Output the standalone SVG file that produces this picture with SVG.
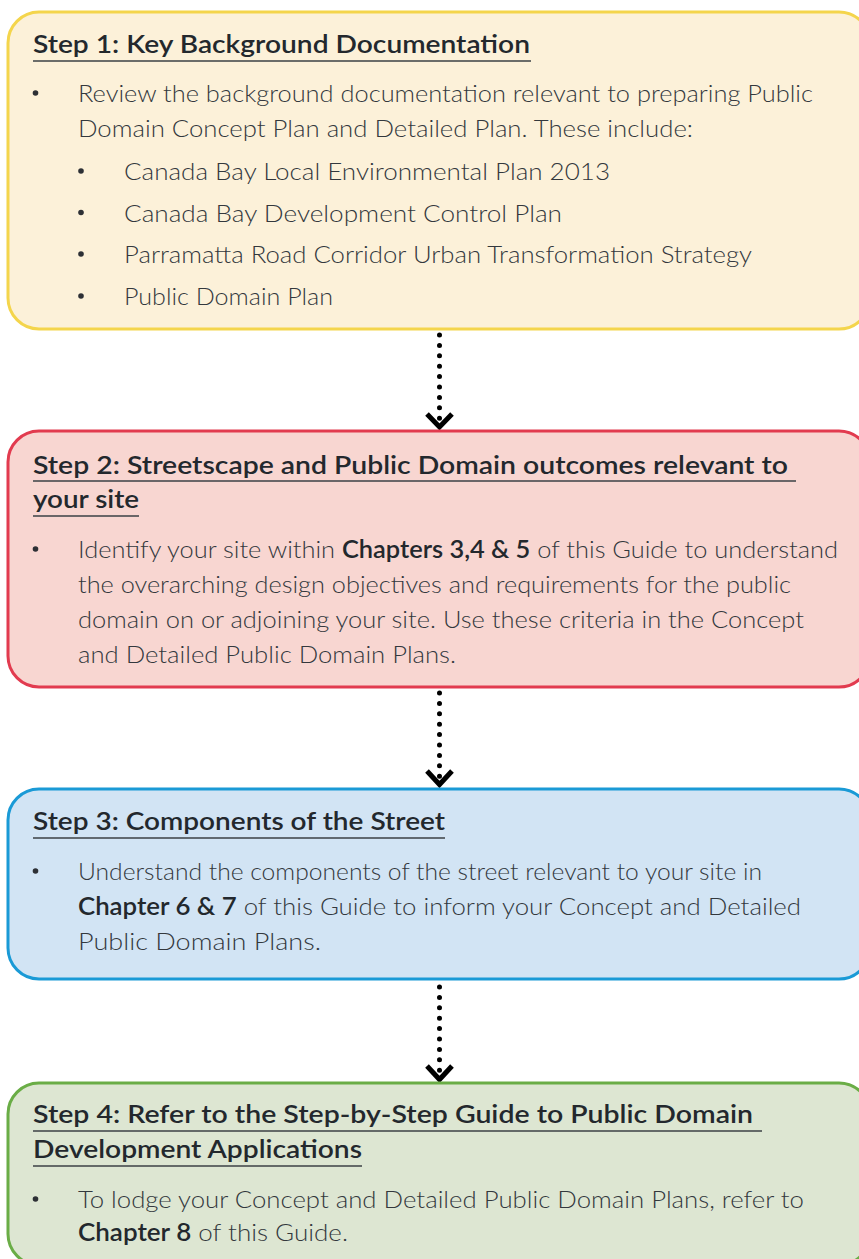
<svg xmlns="http://www.w3.org/2000/svg" width="859" height="1259" viewBox="0 0 859 1259">
<style>
.box{stroke-width:3}
.h{font-family:Lato,"Noto Sans","Liberation Sans",sans-serif;font-size:24px;font-weight:600;fill:#23282d}
.t{font-family:Lato,"Noto Sans","Liberation Sans",sans-serif;font-size:24px;font-weight:300;fill:#33383d}
.b{font-weight:600;fill:#23282d}
.ul{stroke:#3b4045;stroke-width:1.6}
.dot{fill:#2d3035}
.dots{stroke:#000;stroke-width:5;stroke-linecap:round;stroke-dasharray:0 10.4;fill:none}
.chev{stroke:#000;stroke-width:5;fill:none;stroke-linejoin:miter}
</style>
<g id="connectors">
<line class="dots" x1="439.5" y1="335" x2="439.5" y2="419"/>
<polyline class="chev" points="427,414 439.5,427 452,414"/>
<line class="dots" x1="439.5" y1="693" x2="439.5" y2="777"/>
<polyline class="chev" points="427,771 439.5,784.5 452,771"/>
<line class="dots" x1="439.5" y1="987" x2="439.5" y2="1071"/>
<polyline class="chev" points="427,1066 439.5,1079.5 452,1066"/>
</g>
<g id="step1">
<rect class="box" x="8" y="12" width="862" height="317" rx="31" fill="#fcf1d9" stroke="#f4d54c"/>
<text class="h" x="33" y="53" textLength="497" lengthAdjust="spacingAndGlyphs">Step 1: Key Background Documentation</text>
<line class="ul" x1="33" y1="61" x2="531" y2="61"/>
<circle class="dot" cx="35.5" cy="93" r="2.8"/>
<text class="t" x="78" y="102" textLength="735" lengthAdjust="spacingAndGlyphs">Review the background documentation relevant to preparing Public</text>
<text class="t" x="78" y="137" textLength="615" lengthAdjust="spacingAndGlyphs">Domain Concept Plan and Detailed Plan. These include:</text>
<circle class="dot" cx="81" cy="171" r="2.8"/>
<text class="t" x="124" y="180" textLength="486" lengthAdjust="spacingAndGlyphs">Canada Bay Local Environmental Plan 2013</text>
<circle class="dot" cx="81" cy="212.5" r="2.8"/>
<text class="t" x="124" y="222" textLength="438" lengthAdjust="spacingAndGlyphs">Canada Bay Development Control Plan</text>
<circle class="dot" cx="81" cy="254" r="2.8"/>
<text class="t" x="124" y="263" textLength="628" lengthAdjust="spacingAndGlyphs">Parramatta Road Corridor Urban Transformation Strategy</text>
<circle class="dot" cx="81" cy="296" r="2.8"/>
<text class="t" x="124" y="305" textLength="209" lengthAdjust="spacingAndGlyphs">Public Domain Plan</text>
</g>
<g id="step2">
<rect class="box" x="8" y="431" width="862" height="256" rx="31" fill="#f8d6d1" stroke="#e23b4f"/>
<text class="h" x="33" y="474" textLength="755" lengthAdjust="spacingAndGlyphs">Step 2: Streetscape and Public Domain outcomes relevant to</text>
<line class="ul" x1="33" y1="481" x2="796" y2="481"/>
<text class="h" x="33" y="508" textLength="106" lengthAdjust="spacingAndGlyphs">your site</text>
<line class="ul" x1="33" y1="516" x2="139" y2="516"/>
<circle class="dot" cx="35.5" cy="549" r="2.8"/>
<text class="t" x="78" y="558" textLength="760" lengthAdjust="spacingAndGlyphs">Identify your site within <tspan class="b">Chapters 3,4 &amp; 5</tspan> of this Guide to understand</text>
<text class="t" x="78" y="593" textLength="713" lengthAdjust="spacingAndGlyphs">the overarching design objectives and requirements for the public</text>
<text class="t" x="78" y="628" textLength="726" lengthAdjust="spacingAndGlyphs">domain on or adjoining your site. Use these criteria in the Concept</text>
<text class="t" x="78" y="663" textLength="378" lengthAdjust="spacingAndGlyphs">and Detailed Public Domain Plans.</text>
</g>
<g id="step3">
<rect class="box" x="8" y="789" width="862" height="190" rx="31" fill="#d2e4f4" stroke="#1a9ad6"/>
<text class="h" x="33" y="830" textLength="412" lengthAdjust="spacingAndGlyphs">Step 3: Components of the Street</text>
<line class="ul" x1="33" y1="838" x2="445" y2="838"/>
<circle class="dot" cx="35.5" cy="871" r="2.8"/>
<text class="t" x="78" y="880" textLength="684" lengthAdjust="spacingAndGlyphs">Understand the components of the street relevant to your site in</text>
<text class="t" x="78" y="915" textLength="723" lengthAdjust="spacingAndGlyphs"><tspan class="b">Chapter 6 &amp; 7</tspan> of this Guide to inform your Concept and Detailed</text>
<text class="t" x="78" y="950" textLength="243" lengthAdjust="spacingAndGlyphs">Public Domain Plans.</text>
</g>
<g id="step4">
<rect class="box" x="8" y="1083" width="862" height="182" rx="31" fill="#dde6d2" stroke="#6aad46"/>
<text class="h" x="33" y="1123" textLength="720" lengthAdjust="spacingAndGlyphs">Step 4: Refer to the Step-by-Step Guide to Public Domain</text>
<line class="ul" x1="33" y1="1131" x2="762" y2="1131"/>
<text class="h" x="33" y="1158" textLength="329" lengthAdjust="spacingAndGlyphs">Development Applications</text>
<line class="ul" x1="33" y1="1166" x2="362" y2="1166"/>
<circle class="dot" cx="35.5" cy="1199" r="2.8"/>
<text class="t" x="78" y="1208" textLength="726" lengthAdjust="spacingAndGlyphs">To lodge your Concept and Detailed Public Domain Plans, refer to</text>
<text class="t" x="78" y="1241" textLength="270" lengthAdjust="spacingAndGlyphs"><tspan class="b">Chapter 8</tspan> of this Guide.</text>
</g>
</svg>
